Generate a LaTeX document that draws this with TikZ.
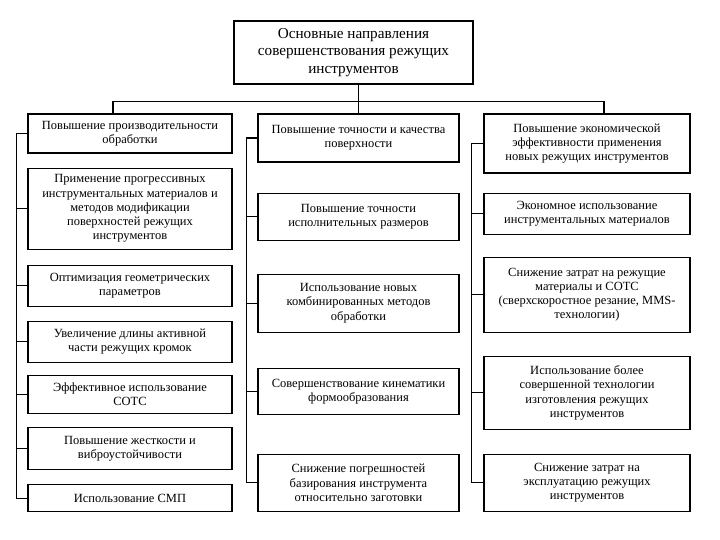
\documentclass[tikz,border=0pt]{standalone}
\usepackage{fontspec}
\setmainfont{Liberation Serif}
\usetikzlibrary{positioning}

\begin{document}
\begin{tikzpicture}[
  x=1pt,y=1pt,
  box/.style={draw,line width=1.1pt,align=center,inner sep=2pt,font=\fontsize{12.5}{14.2}\selectfont},
  colA/.style={box,minimum width=204pt},
  colB/.style={box,minimum width=201pt},
  colC/.style={box,minimum width=206pt},
  link/.style={line width=1.1pt}
]
\useasboundingbox (0,0) rectangle (720,-540);
% top box
\node[box,minimum width=239pt,minimum height=63pt,font=\fontsize{15.2}{17.5}\selectfont] (top) at (353.5,-52.5)
  {Основные направления\\совершенствования режущих\\инструментов};
% column 1
\node[colA,minimum height=39pt] (h1) at (130,-133.5) {Повышение производительности\\обработки};
\node[colA,minimum height=81pt,below=14pt of h1] (b12) {Применение прогрессивных\\инструментальных материалов и\\методов модификации\\поверхностей режущих\\инструментов};
\node[colA,minimum height=41pt,below=15pt of b12] (b13) {Оптимизация геометрических\\параметров};
\node[colA,minimum height=41pt,below=14pt of b13] (b14) {Увеличение длины активной\\части режущих кромок};
\node[colA,minimum height=38pt,below=12pt of b14] (b15) {Эффективное использование\\СОТС};
\node[colA,minimum height=42pt,below=13pt of b15] (b16) {Повышение жесткости и\\виброустойчивости};
\node[colA,minimum height=27pt,below=14pt of b16] (b17) {Использование СМП};
% column 2
\node[colB,minimum height=48pt] (h2) at (358.5,-138) {Повышение точности и качества\\поверхности};
\node[colB,minimum height=47pt,below=30pt of h2] (b22) {Повышение точности\\исполнительных размеров};
\node[colB,minimum height=58pt,below=33pt of b22] (b23) {Использование новых\\комбинированных методов\\обработки};
\node[colB,minimum height=46pt,below=35pt of b23] (b24) {Совершенствование кинематики\\формообразования};
\node[colB,minimum height=57pt,below=39pt of b24] (b25) {Снижение погрешностей\\базирования инструмента\\относительно заготовки};
% column 3
\node[colC,minimum height=59pt] (h3) at (587,-143.5) {Повышение экономической\\эффективности применения\\новых режущих инструментов};
\node[colC,minimum height=41pt,below=19pt of h3] (b32) {Экономное использование\\инструментальных материалов};
\node[colC,minimum height=75pt,below=22pt of b32] (b33) {Снижение затрат на режущие\\материалы и СОТС\\(сверхскоростное резание, MMS-\\технологии)};
\node[colC,minimum height=73pt,below=23pt of b33] (b34) {Использование более\\совершенной технологии\\изготовления режущих\\инструментов};
\node[colC,minimum height=57pt,below=24pt of b34] (b35) {Снижение затрат на\\эксплуатацию режущих\\инструментов};
% bus
\coordinate (bus) at ([yshift=-17pt]top.south);
\draw[link] ([xshift=-17pt]h1.north) |- (bus) -| ([xshift=17pt]h3.north);
\draw[link] (top.south -| h2.north) -- (h2.north);
% trunks
\draw[link] (h1.west) -- ++(-11,0) coordinate (t1) |- (b17.west);
\draw[link] (h2.west) -- ++(-11,0) coordinate (t2) |- (b25.west);
\draw[link] (h3.west) -- ++(-12,0) coordinate (t3) |- (b35.west);
\foreach \n in {b12,b13,b14,b15,b16}
  \draw[link] (\n.west) -- (\n.west -| t1);
\foreach \n in {b22,b23,b24}
  \draw[link] (\n.west) -- (\n.west -| t2);
\foreach \n in {b32,b33,b34}
  \draw[link] (\n.west) -- (\n.west -| t3);
\end{tikzpicture}
\end{document}
